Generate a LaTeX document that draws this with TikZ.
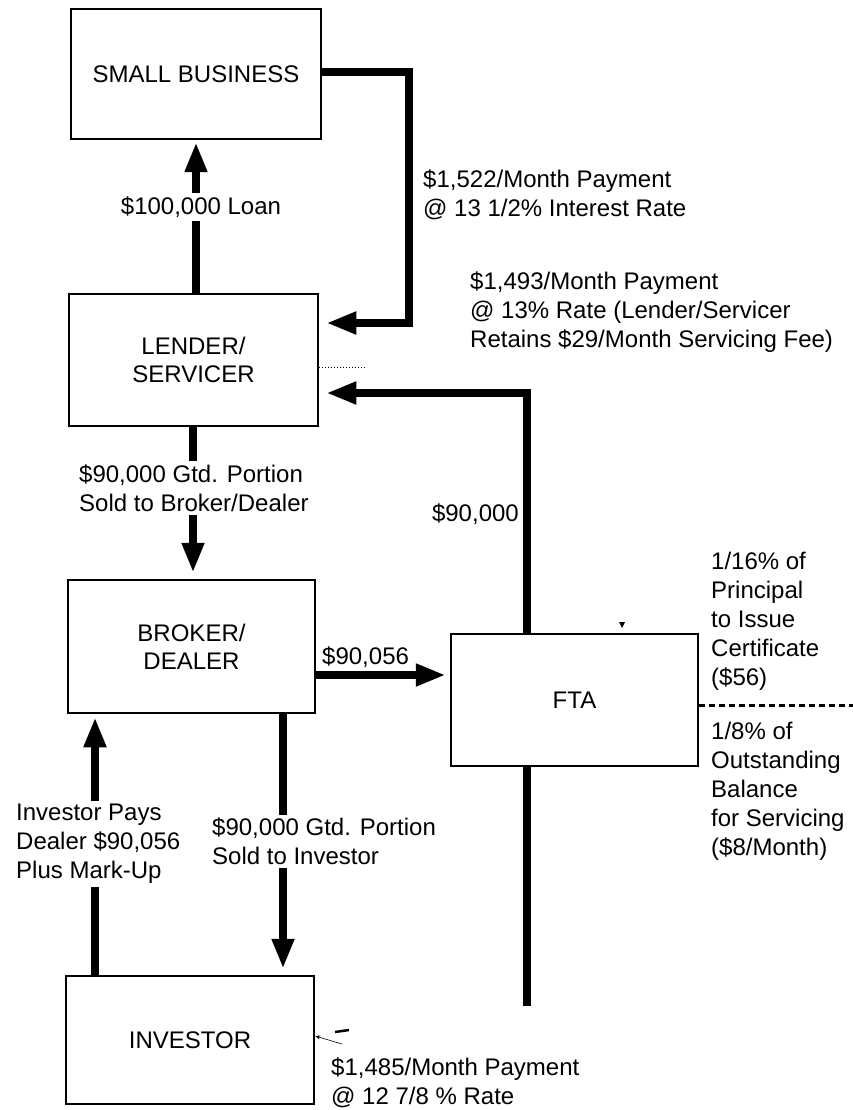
\documentclass[tikz,border=0pt]{standalone}
\usepackage{fontspec}
\setmainfont{Liberation Sans}
\usetikzlibrary{arrows.meta}
\begin{document}
\begin{tikzpicture}[x=1pt,y=-1pt,
  box/.style={draw,line width=2.5pt,rectangle,inner sep=0pt,align=center,font=\fontsize{24}{28}\selectfont},
  lbl/.style={inner xsep=0pt,inner ysep=3pt,align=left,font=\fontsize{24}{29}\selectfont},
  flow/.style={line width=8pt},
  flowarrow/.style={line width=8pt,-{Triangle[length=30pt,width=21pt]}},
]
\useasboundingbox (0,0) rectangle (853,1110);

% boxes
\node[box,minimum width=250pt,minimum height=130pt] (sb) at (196,74) {SMALL BUSINESS};
\node[box,minimum width=249pt,minimum height=132pt] (lender) at (193.5,360) {LENDER/\\SERVICER};
\node[box,minimum width=247pt,minimum height=133pt] (broker) at (191.5,646.5) {BROKER/\\DEALER};
\node[box,minimum width=248pt,minimum height=128pt] (investor) at (190,1040) {INVESTOR};
\node[box,minimum width=247pt,minimum height=132pt] (fta) at (574.5,700) {FTA};

% labels
\node[lbl] (loanlbl) at (201,207) {\$100,000 Loan};
\node[lbl,anchor=west] (pay1) at (423,194.5) {\$1,522/Month Payment\\@ 13 1/2\% Interest Rate};
\node[lbl,anchor=west] (pay2) at (470,312) {\$1,493/Month Payment\\@ 13\% Rate (Lender/Servicer\\Retains \$29/Month Servicing Fee)};
\node[lbl,anchor=west] (gtd1) at (79,488) {\$90,000 Gtd. Portion\\Sold to Broker/Dealer};
\node[lbl,anchor=east] (ninety) at (519,514) {\$90,000};
\node[lbl,anchor=west] (n056) at (322,657) {\$90,056};
\node[lbl,anchor=west] (cert) at (711,621.5) {1/16\% of\\Principal\\to Issue\\Certificate\\(\$56)};
\node[lbl,anchor=west] (serv) at (711,791.5) {1/8\% of\\Outstanding\\Balance\\for Servicing\\(\$8/Month)};
\node[lbl,anchor=west] (invpays) at (16,844) {Investor Pays\\Dealer \$90,056\\Plus Mark-Up};
\node[lbl,anchor=west] (gtd2) at (212,841.5) {\$90,000 Gtd. Portion\\Sold to Investor};
\node[lbl,anchor=west] (pay3) at (331,1082.5) {\$1,485/Month Payment\\@ 12 7/8 \% Rate};

% helper coordinates
\coordinate (xloan) at (196,0);
\coordinate (xlb) at (193,0);
\coordinate (xip) at (95,0);
\coordinate (xgi) at (283,0);
\coordinate (xfta) at (527,0);
\coordinate (c1) at (409,72);
\coordinate (c2) at (409,323);
\coordinate (c3) at (527,393);
\coordinate (y56) at (0,675);
\coordinate (ftaend) at (527,1006);
\coordinate (dotend) at (853,705);
\coordinate (ldot) at (365,367);
\coordinate (smalltail) at (342,1044);
\coordinate (tinytip) at (316,1036);

% connectors
\draw[flow] (lender.north -| xloan) -- (loanlbl.south -| xloan);
\draw[flowarrow,shorten >=2pt] (loanlbl.north -| xloan) -- (sb.south -| xloan);
\draw[flowarrow,shorten >=7pt] (sb.east |- c1) -- (c1) -- (c2) -- (lender.east |- c2);
\draw[flowarrow,shorten >=7pt] (fta.north -| xfta) -- (c3) -- (lender.east |- c3);
\draw[flow] (lender.south -| xlb) -- (gtd1.north -| xlb);
\draw[flowarrow,shorten >=6pt] (gtd1.south -| xlb) -- (broker.north -| xlb);
\draw[flowarrow,shorten >=4pt] (broker.east |- y56) -- (fta.west |- y56);
\draw[flow] (investor.north -| xip) -- (invpays.south -| xip);
\draw[flowarrow,shorten >=3pt] (invpays.north -| xip) -- (broker.south -| xip);
\draw[flow] (broker.south -| xgi) -- (gtd2.north -| xgi);
\draw[flowarrow,shorten >=6pt] (gtd2.south -| xgi) -- (investor.north -| xgi);
\draw[flow] (fta.south -| xfta) -- (ftaend);
\draw[line width=3pt,dash pattern=on 6pt off 4pt] (fta.east |- dotend) -- (dotend);
\draw[line width=1pt,dotted] (lender.east |- ldot) -- (ldot);
\draw[line width=0.6pt,-{Stealth[length=5pt,width=4pt]}] (smalltail) -- (investor.east |- tinytip);
\draw[line width=2.5pt] (335,1032) -- (349,1030);
\fill (619,622) -- (625,622) -- (622,628) -- cycle;
\end{tikzpicture}
\end{document}
